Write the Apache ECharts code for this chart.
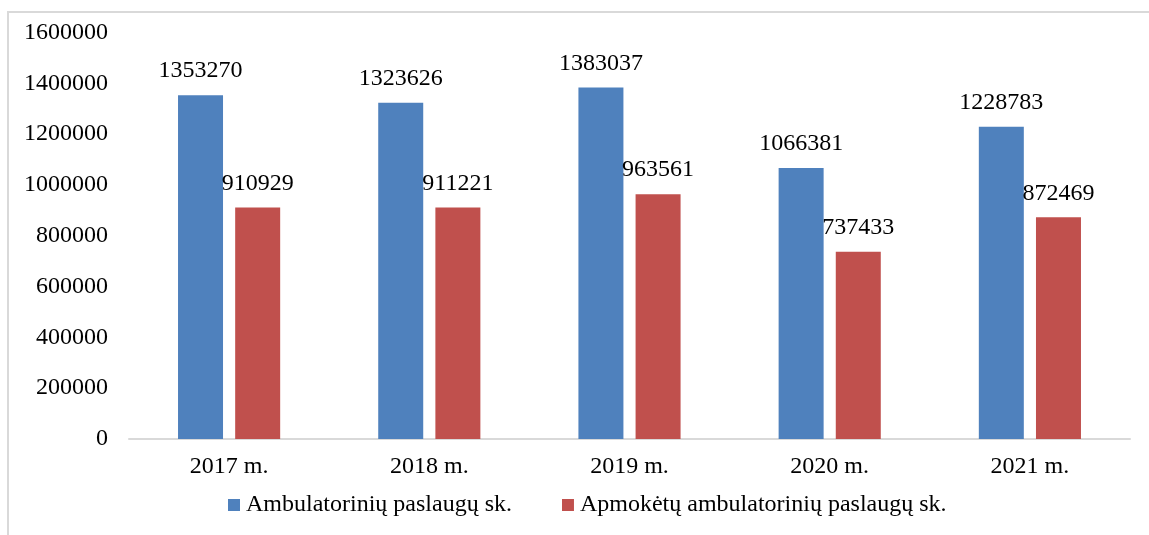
<!DOCTYPE html>
<html>
<head>
<meta charset="utf-8">
<script src="https://cdn.jsdelivr.net/npm/echarts@6/dist/echarts.min.js"></script>
<style>
  html, body { margin: 0; padding: 0; background: #fff; overflow: hidden; }
  #frame { position: absolute; left: 7px; top: 11px; width: 1200px; height: 600px; border: 2px solid #d9d9d9; box-sizing: border-box; }
  #chart { position: absolute; left: 0; top: 0; width: 1149px; height: 535px; }
</style>
</head>
<body>
<div id="frame"></div>
<div id="chart"></div>
<script>
const categories = ['2017 m.', '2018 m.', '2019 m.', '2020 m.', '2021 m.'];
const seriesNames = ['Ambulatorinių paslaugų sk.', 'Apmokėtų ambulatorinių paslaugų sk.'];
const ambulatory = [1353270, 1323626, 1383037, 1066381, 1228783];
const paid = [910929, 911221, 963561, 737433, 872469];
const yTicks = { min: 0, max: 1600000, interval: 200000 };

const font = 'Liberation Serif, Times New Roman, serif';
const fs = 24;
const chart = echarts.init(document.getElementById('chart'), null, { renderer: 'canvas' });
const labelStyle = { show: true, position: 'top', distance: 12, color: '#000', fontFamily: font, fontSize: fs };
chart.setOption({
  animation: false,
  backgroundColor: 'transparent',
  textStyle: { fontFamily: font },
  grid: { left: 129, right: 19, top: 32.5, bottom: 96, containLabel: false },
  legend: {
    left: 228, top: 493, padding: 0,
    itemWidth: 12, itemHeight: 12, itemGap: 50,
    icon: 'rect',
    textStyle: { fontFamily: font, fontSize: fs, color: '#000', padding: [0, 0, 0, 1] },
    data: seriesNames
  },
  xAxis: {
    type: 'category',
    data: categories,
    axisLine: { lineStyle: { color: '#d9d9d9', width: 2 } },
    axisTick: { show: false },
    axisLabel: { color: '#000', fontFamily: font, fontSize: fs, margin: 16 }
  },
  yAxis: {
    type: 'value',
    min: yTicks.min, max: yTicks.max, interval: yTicks.interval,
    axisLine: { show: false },
    axisTick: { show: false },
    splitLine: { show: false },
    axisLabel: { color: '#000', fontFamily: font, fontSize: fs, margin: 21, formatter: v => String(v) }
  },
  series: [
    { name: seriesNames[0], type: 'bar', data: ambulatory, barWidth: 45, barGap: '27%',
      itemStyle: { color: '#4F81BD' }, label: labelStyle },
    { name: seriesNames[1], type: 'bar', data: paid, barWidth: 45, barGap: '27%',
      itemStyle: { color: '#C0504D' }, label: labelStyle }
  ]
});
</script>
</body>
</html>
